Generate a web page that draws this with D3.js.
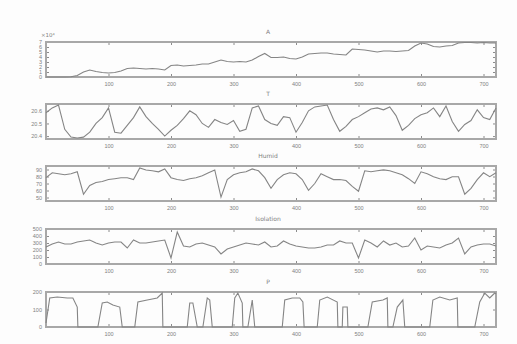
<!DOCTYPE html>
<html>
<head>
<meta charset="utf-8">
<script src="https://cdn.jsdelivr.net/npm/d3@7"></script>
<style>
  body { margin: 0; background: #fdfdfd; }
  svg { font-family: "DejaVu Sans", sans-serif; }
  .frame { fill: none; stroke: #a8a8a8; stroke-width: 2; }
  .tick line { stroke: #8c8c8c; }
  .tick text { fill: #808080; font-size: 5.5px; }
  .title { fill: #808080; font-size: 6px; text-anchor: middle; }
  .series { fill: none; stroke: #858585; stroke-width: 1.1; }
</style>
</head>
<body>
<div id="chart"></div>
<script>
// time index (samples), every 10 steps
const timeIdx = d3.range(0, 730, 10);
const xTicks = [100, 200, 300, 400, 500, 600, 700];

// A (x 10^4), cumulative
const areaVals = [0, 0, 0, 0, 0.05, 0.3, 1.0, 1.4, 1.1, 0.9, 0.8, 0.9, 1.2, 1.7, 1.8, 1.7, 1.6, 1.7, 1.6, 1.4,
  2.3, 2.4, 2.2, 2.3, 2.4, 2.6, 2.6, 3.0, 3.4, 3.1, 3.0, 3.1, 3.0, 3.4, 4.1, 4.7, 3.9, 3.9, 4.0, 3.7,
  3.6, 4.0, 4.6, 4.7, 4.8, 4.8, 4.6, 4.5, 4.4, 5.6, 5.5, 5.4, 5.2, 5.0, 5.2, 5.2, 5.1, 5.2, 5.3, 6.2,
  6.8, 6.6, 6.1, 6.0, 6.2, 6.3, 6.8, 6.9, 6.9, 6.8, 6.9, 6.8, 6.8];

// T
const tempVals = [20.585, 20.623, 20.646, 20.454, 20.392, 20.385, 20.392, 20.431, 20.500, 20.546,
  20.623, 20.431, 20.423, 20.485, 20.546, 20.631, 20.554, 20.500, 20.454, 20.400,
  20.446, 20.485, 20.538, 20.600, 20.569, 20.500, 20.469, 20.531, 20.508, 20.492,
  20.523, 20.438, 20.454, 20.623, 20.638, 20.531, 20.500, 20.485, 20.554, 20.546,
  20.431, 20.508, 20.600, 20.631, 20.638, 20.646, 20.531, 20.438, 20.477, 20.531,
  20.554, 20.585, 20.615, 20.623, 20.608, 20.631, 20.562, 20.446, 20.485, 20.538,
  20.569, 20.585, 20.623, 20.554, 20.638, 20.515, 20.438, 20.492, 20.523, 20.608,
  20.546, 20.531, 20.623];

// Humid
const humidVals = [78.3, 85.3, 83.9, 82.5, 83.9, 86.7, 54.7, 67.2, 71.4, 72.8, 75.6, 76.9, 78.3, 78.3, 75.6,
  92.2, 89.4, 88.1, 86.7, 90.8, 78.3, 75.6, 74.2, 76.9, 78.3, 81.1, 85.3, 89.4, 50.6, 75.6,
  82.5, 85.3, 86.7, 90.8, 88.1, 78.3, 63.1, 75.6, 82.5, 85.3, 83.9, 75.6, 60.3, 70.0, 83.9,
  79.7, 75.6, 75.6, 74.2, 65.8, 58.9, 88.1, 86.7, 88.1, 89.4, 88.1, 85.3, 82.5, 76.9, 70.0,
  86.7, 83.9, 79.7, 76.9, 75.6, 79.7, 79.7, 54.7, 63.1, 75.6, 85.3, 79.7, 85.3];

// Isolation
const isolVals = [243, 286, 314, 286, 286, 314, 329, 343, 300, 271, 300, 314, 314, 229, 343, 300, 300, 314, 329, 343,
  86, 457, 257, 243, 286, 300, 271, 243, 143, 214, 243, 271, 300, 286, 271, 314, 243, 257, 329, 286,
  257, 243, 229, 229, 243, 271, 271, 329, 300, 300, 86, 343, 300, 243, 329, 271, 300, 243, 257, 371,
  200, 257, 243, 229, 271, 300, 371, 143, 243, 271, 286, 286, 257];

// P, read at its break points
const pIdx = [0, 6, 18, 34, 43, 50, 51, 83, 90, 98, 107, 118, 122, 142, 147, 162, 178, 186, 187,
  226, 230, 235, 242, 251, 258, 262, 266, 298, 302, 307, 314, 315, 323, 330, 334,
  378, 382, 394, 406, 411, 413, 434, 438, 450, 466, 467, 474, 475, 482, 483,
  515, 522, 539, 546, 547, 555, 562, 571, 574, 614, 619, 630, 646, 658, 659,
  686, 694, 702, 710, 718, 720];
const pVals = [23, 166, 171, 166, 166, 114, 0, 0, 137, 143, 126, 114, 0, 0, 143, 154, 166, 194, 0,
  0, 137, 137, 0, 0, 166, 154, 0, 0, 166, 194, 137, 0, 0, 154, 0,
  0, 154, 166, 166, 143, 0, 0, 154, 171, 143, 0, 0, 114, 114, 0,
  0, 143, 154, 166, 0, 0, 114, 154, 0, 0, 154, 171, 154, 166, 0,
  0, 143, 194, 166, 194, 190];

const panels = [
  { title: 'A', top: 42, x: timeIdx, y: areaVals, domain: [0, 7], ticks: d3.range(0, 8), fmt: d3.format('d') },
  { title: 'T', top: 104, x: timeIdx, y: tempVals, domain: [20.377, 20.654], ticks: [20.4, 20.5, 20.6], fmt: d3.format('.1f') },
  { title: 'Humid', top: 166, x: timeIdx, y: humidVals, domain: [45, 95], ticks: [50, 60, 70, 80, 90], fmt: d3.format('d') },
  { title: 'Isolation', top: 229, x: timeIdx, y: isolVals, domain: [0, 500], ticks: [0, 100, 200, 300, 400, 500], fmt: d3.format('d') },
  { title: 'P', top: 292, x: pIdx, y: pVals, domain: [0, 200], ticks: [0, 100, 200], fmt: d3.format('d') }
];

const width = 517;
const height = 344;
const left = 46;
const right = 496;
const panelH = 35;

const svg = d3.select('#chart').append('svg')
  .attr('width', width)
  .attr('height', height);

const x = d3.scaleLinear().domain([0, 720]).range([left, right]);

panels.forEach((p) => {
  const y = d3.scaleLinear().domain(p.domain).range([p.top + panelH, p.top]);
  const g = svg.append('g');

  // matlab style inward ticks on every side
  g.append('g')
    .attr('transform', `translate(0, ${p.top + panelH})`)
    .call(d3.axisBottom(x).tickValues(xTicks).tickSizeInner(-3).tickSizeOuter(0).tickPadding(5))
    .call((a) => a.select('.domain').remove());
  g.append('g')
    .attr('transform', `translate(0, ${p.top})`)
    .call(d3.axisTop(x).tickValues(xTicks).tickSizeInner(-3).tickSizeOuter(0).tickFormat(''))
    .call((a) => a.select('.domain').remove());
  g.append('g')
    .attr('transform', `translate(${left}, 0)`)
    .call(d3.axisLeft(y).tickValues(p.ticks).tickFormat(p.fmt).tickSizeInner(-3).tickSizeOuter(0).tickPadding(4))
    .call((a) => a.select('.domain').remove());
  g.append('g')
    .attr('transform', `translate(${right}, 0)`)
    .call(d3.axisRight(y).tickValues(p.ticks).tickSizeInner(-3).tickSizeOuter(0).tickFormat(''))
    .call((a) => a.select('.domain').remove());

  g.append('rect')
    .attr('class', 'frame')
    .attr('x', left)
    .attr('y', p.top)
    .attr('width', right - left)
    .attr('height', panelH);

  const line = d3.line()
    .x((d, i) => x(p.x[i]))
    .y((d) => y(d));

  g.append('path')
    .datum(p.y)
    .attr('class', 'series')
    .attr('d', line);

  g.append('text')
    .attr('class', 'title')
    .attr('x', 268)
    .attr('y', p.top - 8)
    .text(p.title);
});

// exponent label for the first panel
svg.append('text')
  .attr('x', 41)
  .attr('y', 37)
  .attr('fill', '#808080')
  .style('font-size', '5.5px')
  .text('×10⁴');
</script>
</body>
</html>
